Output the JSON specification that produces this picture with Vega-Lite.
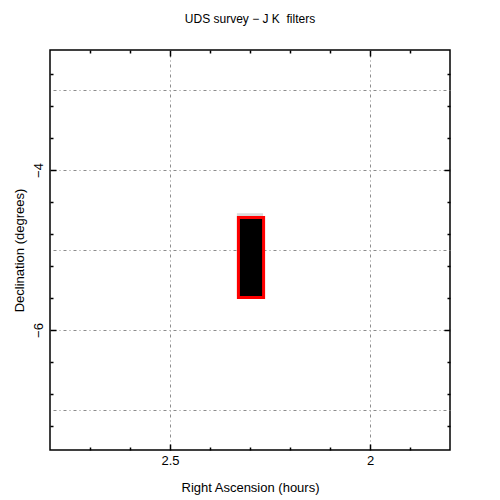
{
  "$schema": "https://vega.github.io/schema/vega-lite/v6.json",
  "width": 400,
  "height": 400,
  "autosize": {"type": "none"},
  "padding": {"left": 50, "top": 50, "right": 50, "bottom": 50},
  "background": "white",
  "title": {"text": "UDS survey − J K \u00a0filters", "font": "Liberation Sans", "fontSize": 12, "fontWeight": "normal", "color": "black", "offset": 23, "anchor": "middle"},
  "config": {
    "view": {"stroke": "black", "strokeWidth": 1.5},
    "axis": {"labelFont": "Liberation Sans", "titleFont": "Liberation Sans", "labelFontSize": 13, "titleFontSize": 13, "titleFontWeight": "normal", "labelColor": "black", "titleColor": "black", "tickColor": "black", "tickWidth": 1.5, "domain": false, "gridColor": "#8c8c8c", "gridDash": [1, 3, 3, 3], "gridWidth": 1}
  },
  "data": {"values": [
    {"filter": "J", "ra_start": 2.329, "ra_end": 2.271, "dec_start": -4.56, "dec_end": -5.56},
    {"filter": "K", "ra_start": 2.329, "ra_end": 2.266, "dec_start": -4.594, "dec_end": -5.594}
  ]},
  "layer": [
    {
      "transform": [{"filter": "datum.filter == 'J'"}],
      "mark": {"type": "rect", "fill": "black", "stroke": "#d9d9d9", "strokeWidth": 3},
      "encoding": {
        "x": {"field": "ra_start", "type": "quantitative", "scale": {"domain": [1.8, 2.8], "reverse": true, "nice": false, "zero": false},
          "axis": {"orient": "bottom", "title": "Right Ascension (hours)", "titlePadding": 14,
            "values": [2.7, 2.6, 2.5, 2.4, 2.3, 2.2, 2.1, 2, 1.9],
            "labelExpr": "datum.value == 2.5 ? '2.5' : (datum.value == 2 ? '2' : '')",
            "tickSize": {"condition": {"test": "datum.value == 2.5 || datum.value == 2", "value": -6}, "value": -3},
            "labelPadding": 10,
            "grid": true,
            "gridOpacity": {"condition": {"test": "datum.value == 2.5 || datum.value == 2", "value": 1}, "value": 0}}},
        "x2": {"field": "ra_end"},
        "y": {"field": "dec_start", "type": "quantitative", "scale": {"domain": [-7.5, -2.5], "nice": false, "zero": false},
          "axis": {"orient": "left", "title": "Declination (degrees)", "titlePadding": 6,
            "values": [-2.8, -3, -3.2, -3.6, -4, -4.4, -4.8, -5, -5.2, -5.6, -6, -6.4, -6.8, -7, -7.2],
            "labelExpr": "datum.value == -4 ? '−4' : (datum.value == -6 ? '−6' : '')",
            "labelAngle": -90,
            "labelPadding": 11,
            "tickSize": {"condition": {"test": "datum.value == -4 || datum.value == -6", "value": -6}, "value": -3},
            "tickOpacity": {"condition": {"test": "datum.value == -3 || datum.value == -5 || datum.value == -7", "value": 0}, "value": 1},
            "grid": true,
            "gridOpacity": {"condition": {"test": "datum.value == -3 || datum.value == -4 || datum.value == -5 || datum.value == -6 || datum.value == -7", "value": 1}, "value": 0}}},
        "y2": {"field": "dec_end"}
      }
    },
    {
      "transform": [{"filter": "datum.filter == 'K'"}],
      "mark": {"type": "rect", "fill": "black", "stroke": "#ff0000", "strokeWidth": 3},
      "encoding": {
        "x": {"field": "ra_start", "type": "quantitative", "scale": {"domain": [1.8, 2.8], "reverse": true, "nice": false, "zero": false},
          "axis": {"orient": "top", "title": null, "labels": false, "grid": false,
            "values": [2.7, 2.6, 2.5, 2.4, 2.3, 2.2, 2.1, 2, 1.9],
            "tickSize": {"condition": {"test": "datum.value == 2.5 || datum.value == 2", "value": -6}, "value": -3}}},
        "x2": {"field": "ra_end"},
        "y": {"field": "dec_start", "type": "quantitative", "scale": {"domain": [-7.5, -2.5], "nice": false, "zero": false},
          "axis": {"orient": "right", "title": null, "labels": false, "grid": false,
            "values": [-2.8, -3.2, -3.6, -4, -4.4, -4.8, -5.2, -5.6, -6, -6.4, -6.8, -7.2],
            "tickSize": {"condition": {"test": "datum.value == -4 || datum.value == -6", "value": -6}, "value": -3}}},
        "y2": {"field": "dec_end"}
      }
    }
  ],
  "resolve": {"axis": {"x": "independent", "y": "independent"}}
}
